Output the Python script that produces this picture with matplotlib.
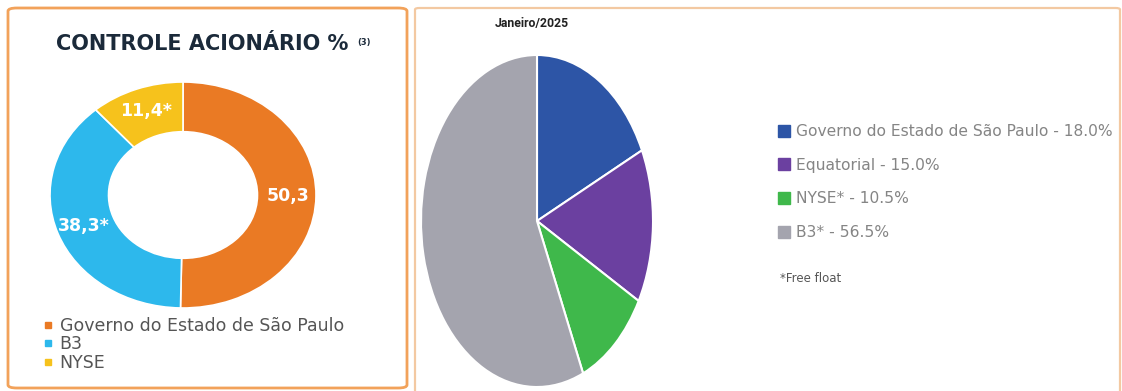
import matplotlib
matplotlib.use("Agg")
import matplotlib.pyplot as plt
from matplotlib.patches import FancyBboxPatch
from matplotlib.lines import Line2D

# ---- data ----
donut_labels = ["Governo do Estado de São Paulo", "B3", "NYSE"]
donut_values = [50.3, 38.3, 11.4]
donut_texts = ["50,3", "38,3*", "11,4*"]
donut_colors = ["#EA7A24", "#2DB8EC", "#F6C21C"]

pie_labels = ["Governo do Estado de São Paulo - 18.0%", "Equatorial - 15.0%",
              "NYSE* - 10.5%", "B3* - 56.5%"]
pie_values = [18.0, 15.0, 10.5, 56.5]
pie_colors = ["#2D55A6", "#6B40A0", "#3FB84B", "#A4A4AE"]

W, H = 1122, 391
fig = plt.figure(figsize=(W / 100, H / 100), dpi=100)
fig.patch.set_facecolor("white")

def fx(px):
    return px / W

def fy(py):
    return 1 - py / H

# ---- panel boxes ----
box1 = FancyBboxPatch((fx(8), fy(388)), fx(399), 380 / H,
                      boxstyle="round,pad=0,rounding_size=0.008",
                      transform=fig.transFigure, facecolor="white",
                      edgecolor="#F2A25A", linewidth=2.0, zorder=-5)
box2 = FancyBboxPatch((fx(415), fy(395)), fx(705), 387 / H,
                      boxstyle="round,pad=0,rounding_size=0.004",
                      transform=fig.transFigure, facecolor="white",
                      edgecolor="#F3C9A2", linewidth=1.6, zorder=-5)
fig.patches.extend([box1, box2])

# ---- donut ----
cx, cy, rx, ry = 183, 195, 133, 113
ax1 = fig.add_axes([fx(cx - rx), fy(cy + ry), 2 * rx / W, 2 * ry / H])
wedges1, texts1 = ax1.pie(donut_values, colors=donut_colors, startangle=90,
                          counterclock=False, labels=donut_texts,
                          labeldistance=0.79,
                          wedgeprops=dict(width=0.44, edgecolor="white", linewidth=1.2),
                          textprops=dict(color="white", fontweight="bold", fontsize=12.5))
for t in texts1:
    t.set_ha("center")
    t.set_va("center")
ax1.set_aspect("auto")
ax1.set_xlim(-1, 1)
ax1.set_ylim(-1, 1)
ax1.axis("off")

fig.text(fx(202), fy(44), "CONTROLE ACIONÁRIO %", ha="center", va="center",
         fontsize=15, fontweight="bold", color="#1B2A3A")
fig.text(fx(364), fy(42), "(3)", ha="center", va="center",
         fontsize=6, fontweight="bold", color="#1B2A3A")

handles1 = [Line2D([], [], linestyle="none", marker="s", markersize=5,
                   markerfacecolor=c, markeredgecolor=c) for c in donut_colors]
fig.legend(handles1, donut_labels, loc="upper left",
           bbox_to_anchor=(fx(44), fy(317)), frameon=False, fontsize=12.5,
           labelcolor="#555555", handlelength=0.5, handletextpad=0.4,
           labelspacing=0.02, borderpad=0, borderaxespad=0)

# ---- pie ----
pcx, pcy, prx, pry = 537, 221, 116, 166
ax2 = fig.add_axes([fx(pcx - prx), fy(pcy + pry), 2 * prx / W, 2 * pry / H])
wedges2, _ = ax2.pie(pie_values, colors=pie_colors, startangle=90,
                     counterclock=False,
                     wedgeprops=dict(edgecolor="white", linewidth=1.5))
ax2.set_aspect("auto")
ax2.set_xlim(-1, 1)
ax2.set_ylim(-1, 1)
ax2.axis("off")

fig.text(fx(532), fy(23), "Janeiro/2025", ha="center", va="center",
         fontsize=8.8, fontweight="bold", color="#222222", family="Roboto")

handles2 = [Line2D([], [], linestyle="none", marker="s", markersize=8,
                   markerfacecolor=c, markeredgecolor=c) for c in pie_colors]
fig.legend(handles2, pie_labels, loc="upper left",
           bbox_to_anchor=(fx(779), fy(124)), frameon=False, fontsize=11.2,
           labelcolor="#858585", handlelength=0.6, handletextpad=0.5,
           labelspacing=1.2, borderpad=0, borderaxespad=0)

fig.text(fx(780), fy(278), "*Free float", ha="left", va="center",
         fontsize=8.5, color="#555555")

fig.savefig("out.png", dpi=100)
